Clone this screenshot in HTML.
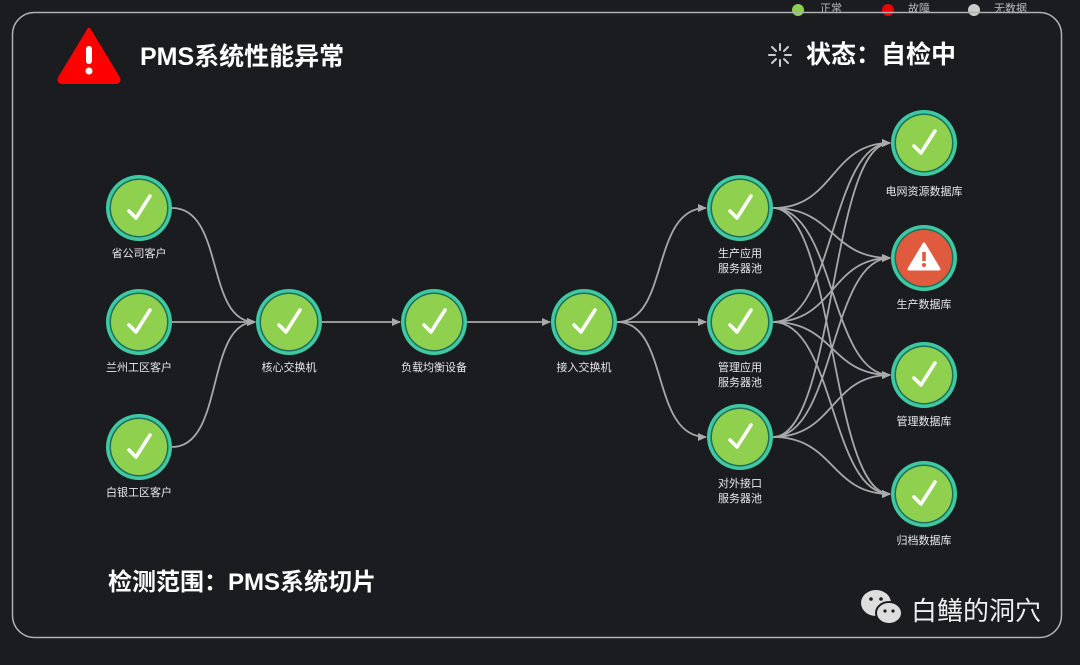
<!DOCTYPE html>
<html><head><meta charset="utf-8"><style>
html,body{margin:0;padding:0;background:#1b1c20;}
body{width:1080px;height:660px;overflow:hidden;font-family:"Liberation Sans","Noto Sans CJK SC",sans-serif;}
</style></head><body>
<svg width="1080" height="660" viewBox="0 0 1080 660" xmlns="http://www.w3.org/2000/svg" style="font-family:'Liberation Sans','Noto Sans CJK SC',sans-serif">
<defs>
<marker id="ar" markerWidth="10" markerHeight="10" refX="8" refY="5" orient="auto" markerUnits="userSpaceOnUse"><path d="M0,1 L9,5 L0,9 z" fill="#aaa"/></marker>
<g id="ok">
<circle r="33" fill="#3fc9a3"/><circle r="29.5" fill="#1f6f5a"/><circle r="28" fill="#8fd14f"/>
<path d="M-10,3 L-3,10 L11,-12" stroke="#fff" stroke-width="3.5" fill="none" stroke-linecap="round" stroke-linejoin="round"/>
</g>
<g id="bad">
<circle r="33" fill="#3fc9a3"/><circle r="29.5" fill="#1f6f5a"/><circle r="28" fill="#e05a3e"/>
<path d="M0,-14 L15,11 L-15,11 z" fill="#fff" stroke="#fff" stroke-width="3" stroke-linejoin="round"/>
<rect x="-1.8" y="-6" width="3.6" height="9" fill="#e05a3e"/><circle cx="0" cy="7" r="2" fill="#e05a3e"/>
</g>
</defs>
<rect x="0" y="0" width="1080" height="660" fill="#1b1c20"/>
<!-- legend -->
<circle cx="798" cy="10" r="6" fill="#8fd14f"/><text x="820" y="12" font-size="11" fill="#bbb">正常</text>
<circle cx="888" cy="10" r="6" fill="#e00"/><text x="908" y="12" font-size="11" fill="#bbb">故障</text>
<circle cx="974" cy="10" r="6" fill="#ccc"/><text x="994" y="12" font-size="11" fill="#bbb">无数据</text>
<rect x="12.5" y="12.5" width="1049" height="625" rx="22" fill="#1b1c20" fill-opacity="0" stroke="#b0b0b0" stroke-width="1.5"/>
<!-- header -->
<path d="M89,30 L118,78 Q120,82 115,82 L63,82 Q58,82 60,78 Z" fill="#f00" stroke="#f00" stroke-width="4" stroke-linejoin="round"/>
<rect x="86" y="46" width="6" height="18" rx="3" fill="#fff"/><circle cx="89" cy="71" r="3.5" fill="#fff"/>
<text x="140" y="65" font-size="25" font-weight="bold" fill="#fff">PMS系统性能异常</text>
<g stroke="#ccc" stroke-width="2" stroke-linecap="round">
<line x1="780" y1="44" x2="780" y2="50"/><line x1="780" y1="60" x2="780" y2="66"/>
<line x1="769" y1="55" x2="775" y2="55"/><line x1="785" y1="55" x2="791" y2="55"/>
<line x1="772" y1="47" x2="776" y2="51"/><line x1="784" y1="59" x2="788" y2="63"/>
<line x1="788" y1="47" x2="784" y2="51"/><line x1="776" y1="59" x2="772" y2="63"/>
</g>
<text x="806" y="63" font-size="25" font-weight="bold" fill="#fff">状态：自检中</text>
<!-- edges -->
<g stroke="#a8a8a8" stroke-width="1.8" fill="none" marker-end="url(#ar)">
<path d="M172,208 C225,208 205,322 255,322"/>
<path d="M172,322 L255,322"/>
<path d="M172,447 C225,447 205,322 255,322"/>
<path d="M322,322 L400,322"/>
<path d="M467,322 L550,322"/>
<path d="M617,322 C670,322 650,208 706,208"/>
<path d="M617,322 L706,322"/>
<path d="M617,322 C670,322 650,437 706,437"/>
<path d="M773,208 C835,208 830,143 890,143"/>
<path d="M773,208 C835,208 830,258 890,258"/>
<path d="M773,208 C835,208 830,375 890,375"/>
<path d="M773,208 C835,208 830,494 890,494"/>
<path d="M773,322 C835,322 830,143 890,143"/>
<path d="M773,322 C835,322 830,258 890,258"/>
<path d="M773,322 C835,322 830,375 890,375"/>
<path d="M773,322 C835,322 830,494 890,494"/>
<path d="M773,437 C835,437 830,143 890,143"/>
<path d="M773,437 C835,437 830,258 890,258"/>
<path d="M773,437 C835,437 830,375 890,375"/>
<path d="M773,437 C835,437 830,494 890,494"/>
</g>
<!-- nodes -->
<use href="#ok" x="139" y="208"/><use href="#ok" x="139" y="322"/><use href="#ok" x="139" y="447"/>
<use href="#ok" x="289" y="322"/><use href="#ok" x="434" y="322"/><use href="#ok" x="584" y="322"/>
<use href="#ok" x="740" y="208"/><use href="#ok" x="740" y="322"/><use href="#ok" x="740" y="437"/>
<use href="#ok" x="924" y="143"/><use href="#bad" x="924" y="258"/><use href="#ok" x="924" y="375"/><use href="#ok" x="924" y="494"/>
<g font-size="11" fill="#e8e8e8" text-anchor="middle">
<text x="139" y="257">省公司客户</text>
<text x="139" y="371">兰州工区客户</text>
<text x="139" y="496">白银工区客户</text>
<text x="289" y="371">核心交换机</text>
<text x="434" y="371">负载均衡设备</text>
<text x="584" y="371">接入交换机</text>
<text x="740" y="257">生产应用</text><text x="740" y="272">服务器池</text>
<text x="740" y="371">管理应用</text><text x="740" y="386">服务器池</text>
<text x="740" y="487">对外接口</text><text x="740" y="502">服务器池</text>
<text x="924" y="195">电网资源数据库</text>
<text x="924" y="308">生产数据库</text>
<text x="924" y="425">管理数据库</text>
<text x="924" y="544">归档数据库</text>
</g>
<text x="108" y="590" font-size="24" font-weight="bold" fill="#fff">检测范围：PMS系统切片</text>
<!-- watermark -->
<ellipse cx="876" cy="603" rx="15" ry="13" fill="#ddd"/>
<ellipse cx="889" cy="613" rx="13" ry="11" fill="#ddd" stroke="#1b1c20" stroke-width="2"/>
<circle cx="871" cy="599" r="1.8" fill="#1b1c20"/><circle cx="881" cy="599" r="1.8" fill="#1b1c20"/>
<circle cx="885" cy="611" r="1.6" fill="#1b1c20"/><circle cx="893" cy="611" r="1.6" fill="#1b1c20"/>
<text x="911" y="620" font-size="26" fill="#eee">白鳝的洞穴</text>
</svg>
</body></html>
